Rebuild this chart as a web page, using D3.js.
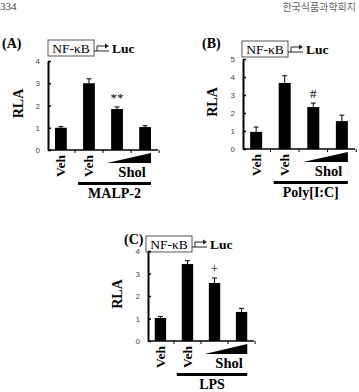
<!DOCTYPE html>
<html>
<head>
<meta charset="utf-8">
<script src="https://cdn.jsdelivr.net/npm/d3@7"></script>
<style>
  body { margin: 0; background: #fff; }
  .tick text { fill: #444; font-family: "Liberation Sans", Arial, sans-serif; font-size: 8px; }
</style>
</head>
<body>
<div id="chart"></div>
<script>
// data
const groups = ["Veh", "Veh", "Shol1", "Shol2"];
const malpMeans = [1.0, 3.0, 1.84, 1.03];
const malpErrors = [0.05, 0.2, 0.1, 0.06];
const polyMeans = [0.95, 3.67, 2.33, 1.55];
const polyErrors = [0.27, 0.4, 0.22, 0.33];
const lpsMeans = [1.02, 3.42, 2.58, 1.29];
const lpsErrors = [0.07, 0.15, 0.22, 0.16];
const ticksFour = [0, 1, 2, 3, 4];
const ticksFive = [0, 1, 2, 3, 4, 5];
const marks = ["**", "#", "+"];
const titles = ["MALP-2", "Poly[I:C]", "LPS"];
const letters = ["(A)", "(B)", "(C)"];

const serif = "'Liberation Serif', 'DejaVu Serif', serif";

let svg = d3.select("#chart")
  .append("svg")
  .attr("width", 359)
  .attr("height", 392);

// page header
svg.append("text")
  .attr("x", 0).attr("y", 10)
  .attr("font-family", serif).attr("font-size", 11)
  .attr("fill", "#444")
  .text("334");
svg.append("text")
  .attr("x", 356).attr("y", 11)
  .attr("text-anchor", "end")
  .attr("font-family", "'Noto Sans CJK KR', sans-serif").attr("font-size", 10)
  .attr("fill", "#666")
  .text("한국식품과학회지");

function panel(p) {
  let g = svg.append("g");
  let y = d3.scaleLinear().domain([0, p.max]).range([p.y0, p.y1]);
  let x = d3.scaleBand()
    .domain(d3.range(groups.length))
    .range([p.x0, p.xEnd])
    .paddingInner(0.58)
    .paddingOuter(0.25);

  // letter
  g.append("text")
    .attr("x", p.lx).attr("y", p.ly)
    .attr("font-family", serif).attr("font-size", 14).attr("font-weight", "bold")
    .text(p.letter);

  // NF-kB box + promoter arrow
  g.append("rect")
    .attr("x", p.bx).attr("y", p.by)
    .attr("width", 46).attr("height", 16)
    .attr("fill", "none").attr("stroke", "#555").attr("stroke-width", 1);
  g.append("text")
    .attr("x", p.bx + 23).attr("y", p.by + 12.5)
    .attr("text-anchor", "middle")
    .attr("font-family", serif).attr("font-size", 13.5)
    .text("NF-κB");
  let ax = p.bx + 46, ay = p.by + 11;
  g.append("path")
    .attr("d", `M${ax},${ay}H${ax + 15}M${ax + 3},${ay}V${ay - 5}H${ax + 12}`)
    .attr("fill", "none").attr("stroke", "#222").attr("stroke-width", 1);
  g.append("path")
    .attr("d", `M${ax + 15},${ay - 5}L${ax + 11},${ay - 7.5}L${ax + 11},${ay - 2.5}Z`)
    .attr("fill", "#222");
  g.append("text")
    .attr("x", ax + 18).attr("y", p.by + 13)
    .attr("font-family", serif).attr("font-size", 13.5).attr("font-weight", "bold")
    .text("Luc");

  // y axis
  let yAxis = d3.axisLeft(y)
    .tickValues(p.ticks)
    .tickFormat(d3.format("d"))
    .tickSizeInner(-3)
    .tickSizeOuter(0)
    .tickPadding(8);
  let ya = g.append("g")
    .attr("transform", "translate(" + p.x0 + ",0)")
    .call(yAxis);
  ya.select(".domain").attr("stroke-width", 2);
  ya.selectAll(".tick line").attr("stroke-width", 1.5);

  g.append("text")
    .attr("transform", "translate(" + p.rx + "," + ((p.y0 + p.y1) / 2 - 2) + ") rotate(-90)")
    .attr("text-anchor", "middle")
    .attr("font-family", serif).attr("font-size", 14).attr("font-weight", "bold")
    .text("RLA");

  // x axis
  g.append("line")
    .attr("x1", p.x0).attr("x2", p.xEnd)
    .attr("y1", p.y0).attr("y2", p.y0)
    .attr("stroke", "#000").attr("stroke-width", 1.5);
  let step = x.step();
  g.selectAll(".xt")
    .data(d3.range(1, groups.length + 1))
    .enter().append("line")
    .attr("x1", d => x(d - 1) + x.bandwidth() + (step - x.bandwidth()) / 2)
    .attr("x2", d => x(d - 1) + x.bandwidth() + (step - x.bandwidth()) / 2)
    .attr("y1", p.y0).attr("y2", p.y0 + 3)
    .attr("stroke", "#000").attr("stroke-width", 1);

  // bars
  g.selectAll(".bar")
    .data(p.means)
    .enter().append("rect")
    .attr("x", (d, i) => x(i))
    .attr("y", d => y(d))
    .attr("width", x.bandwidth())
    .attr("height", d => y(0) - y(d))
    .attr("fill", "#000");

  // error bars
  let eb = g.selectAll(".err")
    .data(p.means)
    .enter().append("g");
  eb.append("line")
    .attr("x1", (d, i) => x(i) + x.bandwidth() / 2)
    .attr("x2", (d, i) => x(i) + x.bandwidth() / 2)
    .attr("y1", d => y(d))
    .attr("y2", (d, i) => y(d + p.errors[i]))
    .attr("stroke", "#000").attr("stroke-width", 1);
  eb.append("line")
    .attr("x1", (d, i) => x(i) + x.bandwidth() / 2 - 2.5)
    .attr("x2", (d, i) => x(i) + x.bandwidth() / 2 + 2.5)
    .attr("y1", (d, i) => y(d + p.errors[i]))
    .attr("y2", (d, i) => y(d + p.errors[i]))
    .attr("stroke", "#000").attr("stroke-width", 1);

  // significance mark over third bar
  g.append("text")
    .attr("x", x(2) + x.bandwidth() / 2)
    .attr("y", y(p.means[2] + p.errors[2]) - 5)
    .attr("text-anchor", "middle")
    .attr("font-family", serif).attr("font-size", 13)
    .attr("fill", "#000")
    .text(p.mark);

  // Veh labels
  g.selectAll(".veh")
    .data([0, 1])
    .enter().append("text")
    .attr("transform", i => "translate(" + (x(i) + x.bandwidth() / 2 + 4.5) + "," + (p.y0 + 5) + ") rotate(-90)")
    .attr("text-anchor", "end")
    .attr("font-family", serif).attr("font-size", 13.5).attr("font-weight", "bold")
    .text(i => groups[i]);

  // Shol wedge
  let wl = x(2) - 4, wr = x(3) + x.bandwidth();
  g.append("path")
    .attr("d", `M${wl},${p.y0 + 13}L${wr},${p.y0 + 3}L${wr},${p.y0 + 13}Z`)
    .attr("fill", "#000");
  g.append("text")
    .attr("x", (x(2) + x(3) + x.bandwidth()) / 2 + 1)
    .attr("y", p.y0 + 27)
    .attr("text-anchor", "middle")
    .attr("font-family", serif).attr("font-size", 14.5).attr("font-weight", "bold")
    .text("Shol");

  // stimulus bar + name
  let ll = x(1) - 5;
  g.append("line")
    .attr("x1", ll).attr("x2", wr)
    .attr("y1", p.y0 + 33.5).attr("y2", p.y0 + 33.5)
    .attr("stroke", "#000").attr("stroke-width", 3);
  g.append("text")
    .attr("x", (ll + wr) / 2)
    .attr("y", p.y0 + 48)
    .attr("text-anchor", "middle")
    .attr("font-family", serif).attr("font-size", 14).attr("font-weight", "bold")
    .text(p.title);
}

panel({ letter: letters[0], title: titles[0], mark: marks[0], means: malpMeans, errors: malpErrors,
  max: 4, ticks: ticksFour, x0: 48, xEnd: 158, y0: 150, y1: 61,
  lx: 2, ly: 48, bx: 48, by: 40, rx: 23 });
panel({ letter: letters[1], title: titles[1], mark: marks[1], means: polyMeans, errors: polyErrors,
  max: 5, ticks: ticksFive, x0: 243, xEnd: 355, y0: 149, y1: 59,
  lx: 202, ly: 48, bx: 242, by: 41, rx: 217 });
panel({ letter: letters[2], title: titles[2], mark: marks[2], means: lpsMeans, errors: lpsErrors,
  max: 4, ticks: ticksFour, x0: 148, xEnd: 254, y0: 341, y1: 251,
  lx: 124, ly: 244, bx: 146, by: 236, rx: 122 });
</script>
</body>
</html>
